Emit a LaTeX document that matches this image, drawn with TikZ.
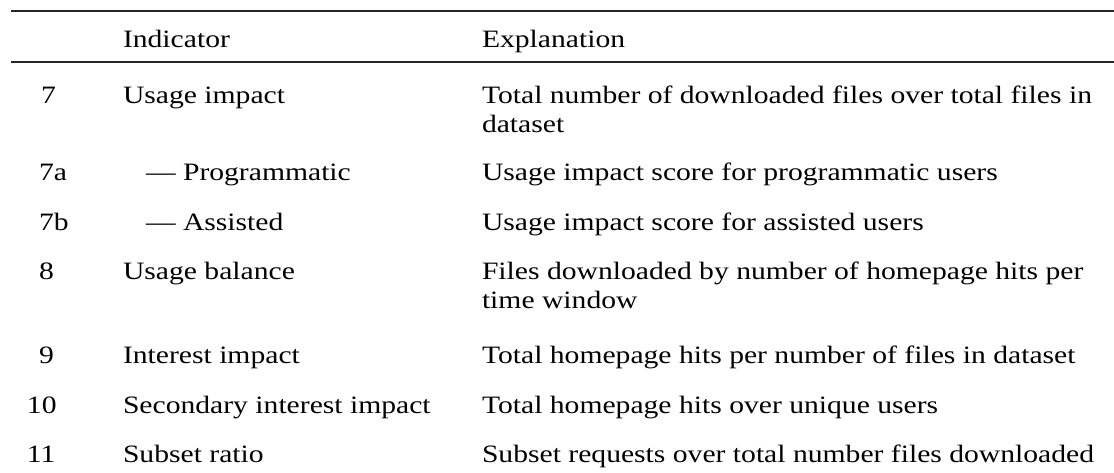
\documentclass[tikz,border=0pt]{standalone}
\usepackage{fontspec}
\setmainfont{Liberation Serif}
\begin{document}
\begin{tikzpicture}[x=1pt,y=-1pt,
  cell/.style={anchor=base west,inner sep=0pt,outer sep=0pt,
    font=\fontsize{25}{30}\selectfont,xscale=1.185,transform shape},
  rule/.style={line width=1.8pt,black!85}]
\useasboundingbox (0,0) rectangle (1114,472);

% rules framing the header
\coordinate (tl) at (11,11);
\coordinate (tr) at (1114,11);
\coordinate (hl) at (11,62);
\coordinate (hr) at (1114,62);
\draw[rule] (tl) -- (tr);
\draw[rule] (hl) -- (hr);

% header
\node[cell] (hind) at (123,47) {Indicator};
\node[cell] (hexp) at (482,47) {Explanation};

% row 7
\node[cell] (n7) at (41,103) {7};
\node[cell] (i7) at (123,103) {Usage impact};
\node[cell] (e7) at (482,103) {Total number of downloaded files over total files in};
\node[cell] (e7x) at (482,132) {dataset};

% row 7a
\node[cell] (n7a) at (39,180) {7a};
\node[cell] (i7a) at (146,180) {— Programmatic};
\node[cell] (e7a) at (482,180) {Usage impact score for programmatic users};

% row 7b
\node[cell] (n7b) at (39,230) {7b};
\node[cell] (i7b) at (146,230) {— Assisted};
\node[cell] (e7b) at (482,230) {Usage impact score for assisted users};

% row 8
\node[cell] (n8) at (39,279) {8};
\node[cell] (i8) at (123,279) {Usage balance};
\node[cell] (e8) at (482,279) {Files downloaded by number of homepage hits per};
\node[cell] (e8x) at (482,308) {time window};

% row 9
\node[cell] (n9) at (39,363) {9};
\node[cell] (i9) at (123,363) {Interest impact};
\node[cell] (e9) at (482,363) {Total homepage hits per number of files in dataset};

% row 10
\node[cell] (n10) at (27,413) {10};
\node[cell] (i10) at (123,413) {Secondary interest impact};
\node[cell] (e10) at (482,413) {Total homepage hits over unique users};

% row 11
\node[cell] (n11) at (27,462) {11};
\node[cell] (i11) at (123,462) {Subset ratio};
\node[cell] (e11) at (482,462) {Subset requests over total number files downloaded};
\end{tikzpicture}
\end{document}
